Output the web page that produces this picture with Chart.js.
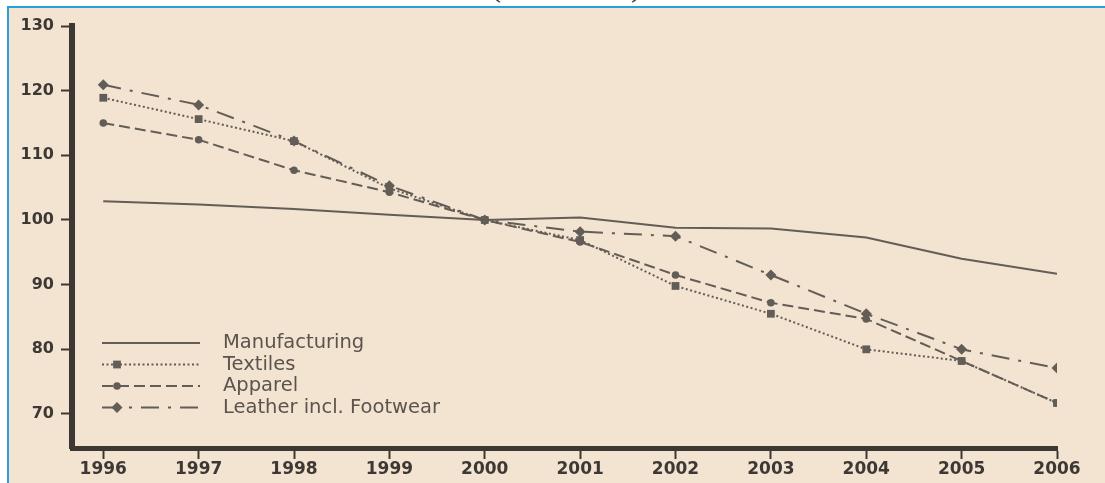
<!DOCTYPE html>
<html><head><meta charset="utf-8">
<script src="https://cdn.jsdelivr.net/npm/chart.js@4/dist/chart.umd.min.js"></script>
<style>
html,body{margin:0;padding:0;background:#fff;width:1105px;height:483px;overflow:hidden;position:relative;}
#frame{position:absolute;left:7px;top:6px;right:0;bottom:0;background:#f3e3d1;border-left:2px solid #2a9fd9;border-top:2px solid #2a9fd9;}
#sub{position:absolute;left:366px;top:-31px;width:400px;text-align:center;font-family:"Liberation Serif",serif;font-size:32px;line-height:32px;color:#333;white-space:nowrap;}
canvas{position:absolute;left:0;top:0;}
</style></head><body>
<div id="sub">(1996=100)</div>
<div id="frame"></div>
<canvas id="c" width="1105" height="483"></canvas>
<script>
// ---- data ----
const years = [1996, 1997, 1998, 1999, 2000, 2001, 2002, 2003, 2004, 2005, 2006];
const manufacturing = [102.9, 102.4, 101.7, 100.8, 100.0, 100.4, 98.8, 98.7, 97.3, 94.0, 91.7];
const textiles      = [118.9, 115.6, 112.2, 104.9, 100.0, 96.9, 89.8, 85.5, 80.0, 78.2, 71.7];
const apparel       = [115.0, 112.4, 107.7, 104.3, 100.0, 96.6, 91.5, 87.2, 84.7, 78.2, 71.7];
const leather       = [120.9, 117.8, 112.2, 105.3, 100.0, 98.2, 97.5, 91.5, 85.5, 80.0, 77.1];
const seriesNames = ['Manufacturing', 'Textiles', 'Apparel', 'Leather incl. Footwear'];
const yTicks = [70, 80, 90, 100, 110, 120, 130];

const LINE = '#635d57';
const INK = '#3d3833';

function pts(vals){ return years.map((y,i)=>({x:y, y:vals[i]})); }

const datasets = [
  {label:seriesNames[0], data:pts(manufacturing), borderColor:LINE, borderWidth:2, pointRadius:0, borderDash:[]},
  {label:seriesNames[1], data:pts(textiles), borderColor:LINE, borderWidth:2, borderDash:[2,2.5], pointStyle:'rect', pointRadius:5.5, pointBackgroundColor:LINE, pointBorderWidth:0},
  {label:seriesNames[2], data:pts(apparel), borderColor:LINE, borderWidth:2, borderDash:[11,5], pointStyle:'circle', pointRadius:3.8, pointBackgroundColor:LINE, pointBorderWidth:0},
  {label:seriesNames[3], data:pts(leather), borderColor:LINE, borderWidth:2, borderDash:[18,9,3,9], pointStyle:'rectRot', pointRadius:5.5, pointBackgroundColor:LINE, pointBorderWidth:0}
];

function drawMarker(ctx, style, x, y, r){
  ctx.beginPath();
  if(style==='rect'){ const s=Math.SQRT1_2*r; ctx.rect(x-s,y-s,2*s,2*s); }
  else if(style==='circle'){ ctx.arc(x,y,r,0,Math.PI*2); }
  else if(style==='rectRot'){ ctx.moveTo(x-r,y); ctx.lineTo(x,y-r); ctx.lineTo(x+r,y); ctx.lineTo(x,y+r); ctx.closePath(); }
  ctx.fill();
}

const innerLegend = {
  id:'innerLegend',
  afterDatasetsDraw(chart){
    const ctx = chart.ctx;
    const rows = [343, 364.5, 386, 407.5];
    ctx.save();
    chart.data.datasets.forEach((ds,i)=>{
      const y = rows[i];
      ctx.strokeStyle = ds.borderColor; ctx.lineWidth = 2;
      ctx.setLineDash(ds.borderDash||[]);
      ctx.beginPath(); ctx.moveTo(102,y); ctx.lineTo(200,y); ctx.stroke();
      ctx.setLineDash([]);
      if(ds.pointRadius>0){ ctx.fillStyle = ds.pointBackgroundColor; drawMarker(ctx, ds.pointStyle, 117, y, ds.pointRadius); }
      ctx.fillStyle = '#5a544e';
      ctx.font = '19.5px "DejaVu Sans"';
      ctx.textBaseline = 'middle'; ctx.textAlign = 'left';
      ctx.fillText(ds.label, 223, y);
    });
    ctx.restore();
  }
};

new Chart(document.getElementById('c'), {
  type:'line',
  data:{datasets},
  plugins:[innerLegend],
  options:{
    responsive:false, animation:false, devicePixelRatio:1,
    layout:{padding:{top:26, right:48, left:0, bottom:0}},
    plugins:{legend:{display:false}, tooltip:{enabled:false}},
    elements:{line:{tension:0, fill:false}},
    scales:{
      x:{type:'linear', min:1995.672, max:2006,
        afterBuildTicks(s){ s.ticks = years.map(v=>({value:v})); },
        afterFit(s){ s.height = 35; },
        border:{display:true, color:INK, width:5},
        grid:{drawOnChartArea:false, drawTicks:true, tickLength:11, tickColor:INK, tickWidth:2, color:INK},
        ticks:{color:INK, padding:0, font:{family:'DejaVu Sans', weight:'bold', size:17}, maxRotation:0, autoSkip:false, callback:v=>String(v)}
      },
      y:{type:'linear', min:64.74, max:130,
        afterBuildTicks(s){ s.ticks = yTicks.map(v=>({value:v})); },
        afterFit(s){ s.width = 72; },
        border:{display:true, color:INK, width:6},
        grid:{drawOnChartArea:false, drawTicks:true, tickLength:11, tickColor:INK, tickWidth:2, color:INK},
        ticks:{color:INK, padding:7, font:{family:'DejaVu Sans', weight:'bold', size:16}, autoSkip:false, callback:v=>String(v)}
      }
    }
  }
});
</script>
</body></html>
